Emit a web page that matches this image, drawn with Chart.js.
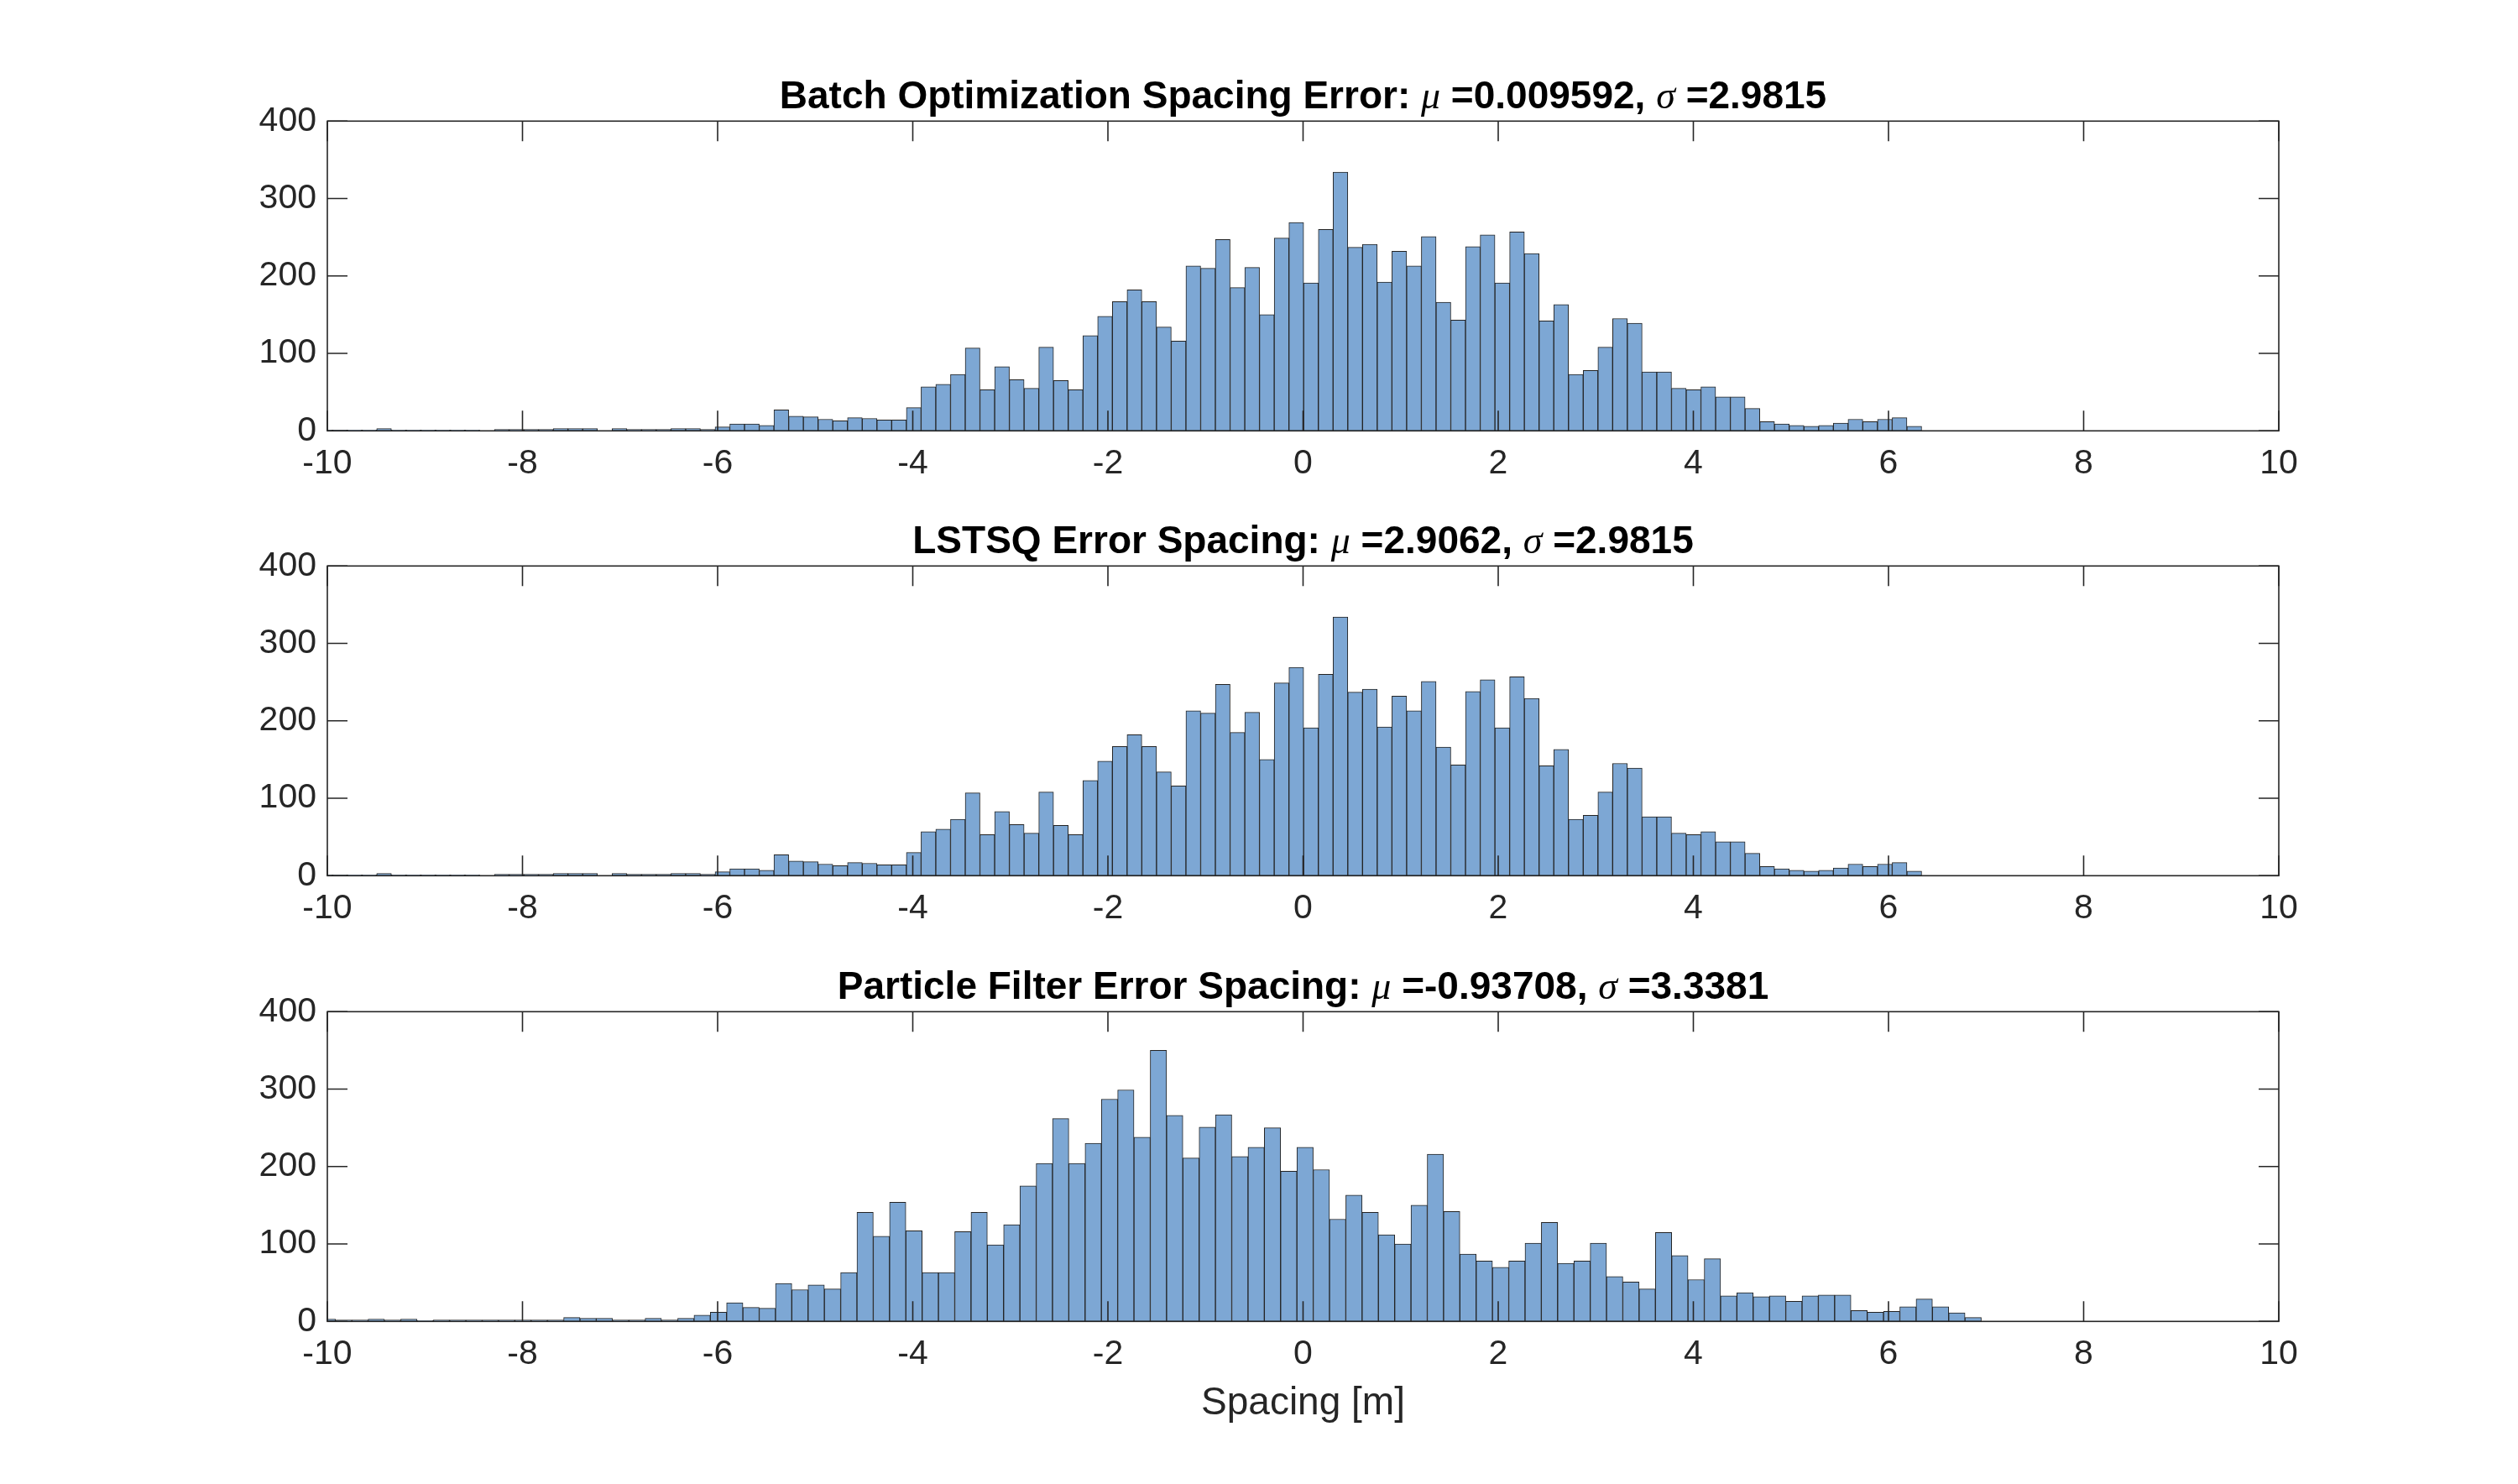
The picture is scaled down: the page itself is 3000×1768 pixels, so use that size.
<!DOCTYPE html>
<html>
<head>
<meta charset="utf-8">
<script src="https://cdn.jsdelivr.net/npm/chart.js@4.4.1/dist/chart.umd.min.js"></script>
<style>
  html, body { margin:0; padding:0; background:#ffffff; }
  body { width:3000px; height:1768px; position:relative; overflow:hidden; font-family:"Liberation Sans", Arial, sans-serif; }
  .plot { position:absolute; left:0; width:3000px; height:620px; }
  .plot canvas { position:absolute; left:0; top:0; }
  .title { position:absolute; left:1552.5px; transform:translate(-50%,-50%); white-space:nowrap;
           font-family:"Liberation Sans", Arial, sans-serif; font-weight:bold; font-size:46px; color:#000; }
  .title i { font-family:"Liberation Serif", "DejaVu Serif", serif; font-style:italic; font-weight:normal; }
  .xlabel { position:absolute; left:1552.5px; top:1669px; transform:translate(-50%,-50%); white-space:nowrap;
            font-family:"Liberation Sans", Arial, sans-serif; font-size:46px; color:#262626; }
</style>
</head>
<body>
<div class="plot" style="top:0px"><canvas id="c0" width="3000" height="620"></canvas></div>
<div class="plot" style="top:530.3px"><canvas id="c1" width="3000" height="620"></canvas></div>
<div class="plot" style="top:1060.6px"><canvas id="c2" width="3000" height="620"></canvas></div>

<div class="title" style="top:113px">Batch Optimization Spacing Error: <i>μ</i> =0.009592, <i>σ</i> =2.9815</div>
<div class="title" style="top:643.3px">LSTSQ Error Spacing: <i>μ</i> =2.9062, <i>σ</i> =2.9815</div>
<div class="title" style="top:1173.6px">Particle Filter Error Spacing: <i>μ</i> =-0.93708, <i>σ</i> =3.3381</div>
<div class="xlabel">Spacing [m]</div>

<script>
// ---- data (histogram counts) ----
const batchFirstEdge = -10.0976;
const batchBinWidth = 0.1508;
const batchCounts = [1,1,1,1,3,1,1,1,1,1,1,0,2,2,2,2,3,3,3,0,3,2,2,2,3,3,2,5,
  9,9,7,27,19,18,15,13,17,16,14,14,
  30,57,60,73,107,53,83,66,55,108,65,53,123,148,167,182,167,134,116,213,210,247,185,211,150,249,269,
  191,260,334,237,241,192,232,213,251,166,143,238,253,191,257,229,142,163,73,78,108,145,139,76,76,55,53,57,44,44,29,12,9,7,6,7,10,15,12,15,17,6];

const lstsqFirstEdge = -10.0976;
const lstsqBinWidth = 0.1508;
const lstsqCounts = [1,1,1,1,3,1,1,1,1,1,1,0,2,2,2,2,3,3,3,0,3,2,2,2,3,3,2,5,
  9,9,7,27,19,18,15,13,17,16,14,14,
  30,57,60,73,107,53,83,66,55,108,65,53,123,148,167,182,167,134,116,213,210,247,185,211,150,249,269,
  191,260,334,237,241,192,232,213,251,166,143,238,253,191,257,229,142,163,73,78,108,145,139,76,76,55,53,57,44,44,29,12,9,7,6,7,10,15,12,15,17,6];

const pfFirstEdge = -10.083;
const pfBinWidth = 0.167;
const pfCounts = [3,2,2,3,2,3,1,2,2,2,2,2,2,2,2,5,4,4,2,2,4,2,4,8,12,
  24,18,17,49,41,47,42,63,141,110,154,117,63,63,116,141,99,125,175,204,262,204,230,287,299,238,350,266,211,251,267,213,225,250,194,
  225,196,132,163,141,112,100,150,216,142,87,78,70,78,101,128,75,78,101,58,51,42,115,85,54,81,33,37,32,33,26,33,34,34,14,12,13,19,29,19,11,5];

const xTicks = [-10,-8,-6,-4,-2,0,2,4,6,8,10];
const yTicks = [0,100,200,300,400];

// ---- styling ----
const AXIS_COLOR = '#262626';
const BAR_FILL = 'rgb(125,167,212)';
const BAR_EDGE = 'rgb(35,35,35)';
const AREA = { left: 390, right: 2715, top: 144.3, bottom: 513.3 };
const CANVAS_H = 620;
const TICK_LEN = 24;

function histPoints(firstEdge, width, counts) {
  return counts.map((c, i) => ({ x: firstEdge + (i + 0.5) * width, y: c }));
}

const matlabAxes = {
  id: 'matlabAxes',
  afterDatasetsDraw(chart) {
    const { ctx, chartArea: a, scales: { x, y } } = chart;
    ctx.save();
    ctx.strokeStyle = AXIS_COLOR;
    ctx.lineWidth = 1.6;
    ctx.beginPath();
    xTicks.forEach(v => {
      const px = x.getPixelForValue(v);
      ctx.moveTo(px, a.bottom); ctx.lineTo(px, a.bottom - TICK_LEN);
      ctx.moveTo(px, a.top); ctx.lineTo(px, a.top + TICK_LEN);
    });
    yTicks.forEach(v => {
      const py = y.getPixelForValue(v);
      ctx.moveTo(a.left, py); ctx.lineTo(a.left + TICK_LEN, py);
      ctx.moveTo(a.right, py); ctx.lineTo(a.right - TICK_LEN, py);
    });
    ctx.stroke();
    ctx.strokeRect(a.left, a.top, a.right - a.left, a.bottom - a.top);
    ctx.restore();
  }
};

function makeChart(id, firstEdge, width, counts) {
  const ctx = document.getElementById(id).getContext('2d');
  return new Chart(ctx, {
    type: 'bar',
    data: {
      datasets: [{
        data: histPoints(firstEdge, width, counts),
        backgroundColor: BAR_FILL,
        borderColor: BAR_EDGE,
        borderWidth: 1,
        borderSkipped: false,
        barPercentage: 1.0,
        categoryPercentage: 1.0,
        clip: 0
      }]
    },
    options: {
      responsive: false,
      animation: false,
      devicePixelRatio: 1,
      layout: { padding: { left: 0, right: 3000 - AREA.right, top: AREA.top, bottom: 0 } },
      plugins: { legend: { display: false }, tooltip: { enabled: false }, title: { display: false } },
      scales: {
        x: {
          type: 'linear',
          min: -10, max: 10,
          offset: false,
          grid: { display: false, drawTicks: false },
          border: { display: false },
          afterFit(scale) { scale.height = CANVAS_H - AREA.bottom; },
          afterBuildTicks(scale) { scale.ticks = xTicks.map(v => ({ value: v })); },
          ticks: {
            autoSkip: false, maxRotation: 0, minRotation: 0, padding: 15,
            color: AXIS_COLOR,
            font: { family: '"Liberation Sans", Arial, sans-serif', size: 41 }
          }
        },
        y: {
          min: 0, max: 400,
          grid: { display: false, drawTicks: false },
          border: { display: false },
          afterFit(scale) { scale.width = AREA.left; },
          afterBuildTicks(scale) { scale.ticks = yTicks.map(v => ({ value: v })); },
          ticks: {
            padding: 13,
            color: AXIS_COLOR,
            font: { family: '"Liberation Sans", Arial, sans-serif', size: 41 }
          }
        }
      }
    },
    plugins: [matlabAxes]
  });
}

makeChart('c0', batchFirstEdge, batchBinWidth, batchCounts);
makeChart('c1', lstsqFirstEdge, lstsqBinWidth, lstsqCounts);
makeChart('c2', pfFirstEdge, pfBinWidth, pfCounts);
</script>
</body>
</html>
